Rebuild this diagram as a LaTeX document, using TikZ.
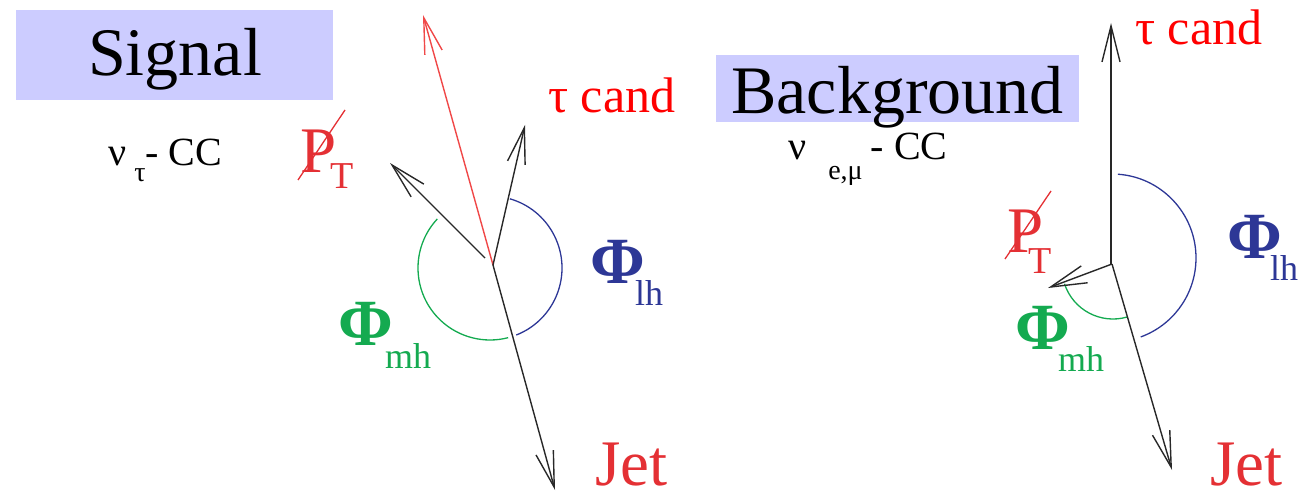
\documentclass[tikz,border=0pt]{standalone}
\usepackage{fontspec}
\setmainfont{LiberationSerif}[Extension=.ttf, UprightFont=*-Regular, BoldFont=*-Bold, ItalicFont=*-Italic, BoldItalicFont=*-BoldItalic]
\usetikzlibrary{arrows.meta}
\definecolor{boxc}{RGB}{204,204,255}
\definecolor{tauc}{RGB}{255,0,0}
\definecolor{redc}{RGB}{228,48,52}
\definecolor{redarr}{RGB}{240,72,72}
\definecolor{bluec}{RGB}{45,55,150}
\definecolor{greenc}{RGB}{20,170,80}
\definecolor{blk}{RGB}{40,40,40}
\begin{document}
\begin{tikzpicture}[x=1pt,y=-1pt,
  vec/.style={draw=blk, line width=1.4pt, -{Straight Barb[length=36pt,width=18pt]}},
  redvec/.style={draw=redarr, line width=1.4pt, -{Straight Barb[length=36pt,width=18pt]}},
  arcb/.style={draw=bluec, line width=1.3pt},
  arcg/.style={draw=greenc, line width=1.3pt},
  boxst/.style={fill=boxc, draw=none, inner sep=0pt},
  lbl/.style={inner sep=0pt, anchor=base west},
  title/.style={inner sep=0pt, anchor=base, font=\fontsize{68}{68}\selectfont},
  big/.style={lbl, font=\fontsize{65}{65}\selectfont},
  phi/.style={lbl, font=\fontsize{66}{66}\selectfont\bfseries},
  subs/.style={lbl, font=\fontsize{36}{36}\selectfont},
  tau/.style={lbl, text=tauc, font=\fontsize{50}{50}\selectfont},
  nu/.style={lbl, font=\fontsize{40}{40}\selectfont},
  slash/.style={draw=redc, line width=1.3pt}
]
\useasboundingbox (0,0) rectangle (1304,492);

% ---------------- Signal ----------------
\node[boxst, minimum width=317pt, minimum height=90pt] (sigbox) at (174.5,55) {};
\node[title] (sigtxt) at (175,76) {Signal};
\node[nu] (nu1) at (108,165) {ν\hspace{8pt}\raisebox{-17pt}{\fontsize{28}{28}\selectfont τ}- CC};

\coordinate (o1) at (493,265);
\coordinate (c1) at (490,268);
\coordinate (r1) at (423,15);
\coordinate (t1) at (525,125);
\coordinate (p1s) at (485,258);
\coordinate (p1) at (390,163);
\coordinate (j1) at (555,490);

\draw[arcb] (c1) ++(-74:72) arc[start angle=-74, end angle=68.6, radius=72];
\draw[arcg] (c1) ++(-137:72) arc[start angle=-137, end angle=-284.6, radius=72];

\draw[redvec] (o1) -- (r1);
\draw[vec] (o1) -- (t1);
\draw[vec] (p1s) -- (p1);
\draw[vec] (o1) -- (j1);

\node[tau] (tau1) at (548,113) {τ cand};
\node[big, text=redc] (pt1) at (300,172) {P};
\node[lbl, text=redc, font=\fontsize{38}{38}\selectfont] (pt1s) at (330,188) {T};
\draw[slash] ([shift={(-2,8)}]pt1.base west) -- ++(47,-70);
\node[phi, text=bluec] (phl1) at (590,283) {Φ};
\node[subs, text=bluec] (phl1s) at (635,305) {lh};
\node[phi, text=greenc] (phm1) at (338,345) {Φ};
\node[subs, text=greenc] (phm1s) at (385,368) {mh};
\node[big, text=redc] (jet1) at (595,485) {Jet};

% ---------------- Background ----------------
\node[boxst, minimum width=363pt, minimum height=67pt] (bgbox) at (897.5,88.5) {};
\node[title] (bgtxt) at (897.5,114) {Background};
\node[nu] (nu2) at (788,160) {ν\hspace{22pt}\raisebox{-20pt}{\fontsize{28}{28}\selectfont e,μ}\hspace{8pt}- CC};

\coordinate (o2) at (1112,264);
\coordinate (ot) at (1111,264);
\coordinate (cb2) at (1112,258);
\coordinate (cg2) at (1113,268);
\coordinate (t2) at (1111,23);
\coordinate (p2) at (1048,288);
\coordinate (j2) at (1172,470);

\draw[arcb] (cb2) ++(-86:84) arc[start angle=-86, end angle=70, radius=84];
\draw[arcg] (cg2) ++(-198:51) arc[start angle=-198, end angle=-286, radius=51];

\draw[vec] (ot) -- (t2);
\draw[vec] (o2) -- (p2);
\draw[vec] (o2) -- (j2);

\node[tau] (tau2) at (1135,45) {τ cand};
\node[big, text=redc] (pt2) at (1007,252) {P};
\node[lbl, text=redc, font=\fontsize{38}{38}\selectfont] (pt2s) at (1028,273) {T};
\draw[slash] ([shift={(-2,7)}]pt2.base west) -- ++(46,-68);
\node[phi, text=bluec] (phl2) at (1227,258) {Φ};
\node[subs, text=bluec] (phl2s) at (1270,280) {lh};
\node[phi, text=greenc] (phm2) at (1015,349) {Φ};
\node[subs, text=greenc] (phm2s) at (1058,371) {mh};
\node[big, text=redc] (jet2) at (1210,485) {Jet};
\end{tikzpicture}
\end{document}
